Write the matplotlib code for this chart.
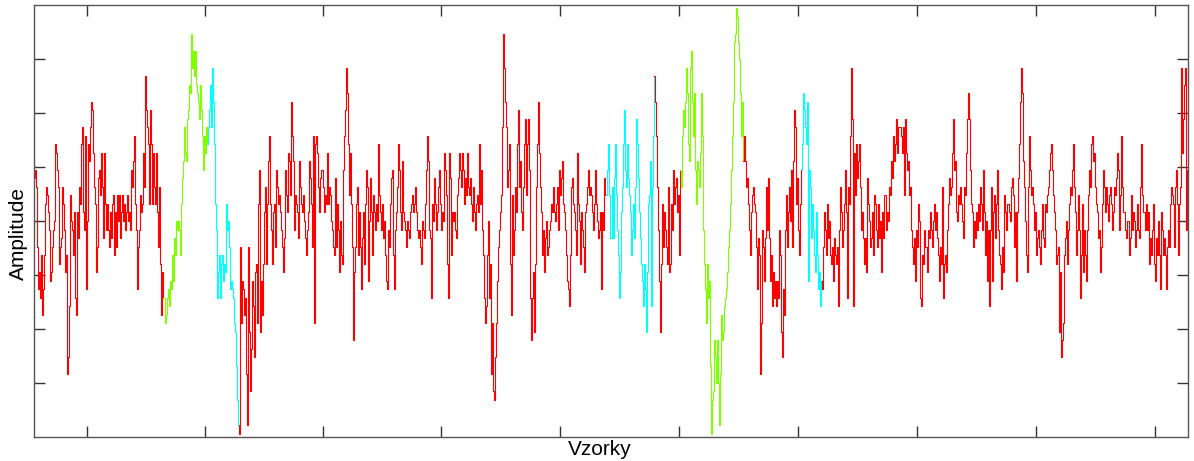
import numpy as np
import matplotlib
matplotlib.use("Agg")
import matplotlib.pyplot as plt

# amplitude (quantised levels) left to right
amp_1 = [5, 6, 4, -3, -8, -6, -9, -4, -11, -8, -4, 2, 4, 3, 1, -1, -7, -6, -3, -1, 0,
         9, 8, 6, 4, -5, -3, -2, 4, 2, -1, -6, -4, -18, -16, -10, 3, 0, -1, -4, 1,
         -9, -11, 1, -2, 4, 2, 9, 11, 1, -1, 10, -8, 0, 9, 7, 11, 14, 13, 8, 4,
         2, -6, -3, 5, 6, 3, 8, 4, -2, 8, 2, -1, 2, -1, -3, 1, -2, 2,
         3, -4, 1, -3, 3, 0, 3, -2, 1, 3, 0, 2, -1, 1, 3, 0, 1, -1, 6, 4, 7,
         10, 2, -1, -8, -3, -1, 3, 1, 2, 8, 4, 17, 13, 11, 9, 2, 13, 9, 2, 8,
         4, 2, 8, 1, -3, 4, -5, -11, -6, -9,
         -9, -12, -11, -9, -8, -10, -7, -8, -4, -7, -2, -4, 0, -1]
amp_2 = [0, -1, -4, 2, 5, 7, 11, 8, 7, 12, 13, 16, 15, 22, 18, 20, 17, 20, 16, 15,
         14, 12, 16, 13, 10, 6, 10, 8, 11, 9,
         11, 13, 16, 11, 18, 14, 9, 2, -1, -9, -6, -4, -9, -5, -4, -7, -5, -6, 2, -1,
         0, -3, -8, -7, -8, -9, -12, -13, -17, -21, -24,
         -25, -3, -12, -7, -8, -11, -9, -18, -24, -3, -13, -20, -15, -7, -10, -16, -6,
         -5, -12, 2, 6, -13, -7, -11, -5, 1, 4, -5, 2, 7, 10, 2, -1, -5, 1, 2, -3,
         6, 4, 2, 3, 1, -1, -3, -6, -2, 6, 3, 1, 8, 7, 3, 14, 10, 7, -1, 3, 2, 1, -2,
         7, 4, 2, 1, 3, 0, -2, -4, -1, 1, 7, 5, 2, -3, 10, -12, 9, 10, 8, 4, 1, 5, 6]
amp_3 = [4, 1, 3, 2, 8, 2, 4, 3, 0, -1, -3, -4, 5, -3, 2, -1, -6, 0, -4, -5,
         6, 10, 13, 18, 15, 9, 3, 8, 2, -3, -14, -6, -3, 2, 4, -4, 1, -3, -8, -2,
         1, -5, 2, 6, 4, -7, 0, 5, 1, -4, 3, 1, -1, 2, 0, 9, 3, 1, -1, 2, -2, 0,
         -4, -7, -8, -1, -3, 2, 5, 6, -4, -8, -1, 1, 4, 9, 6, 1, -1, 7, 1, 0,
         -1, -3, 0, -1, -2, 1, 2, 3, 1, 2, 4, 1, -1, -2, -1, -3, -5, 0, -1, -2,
         2, 6, 10, 7, -1, -2, -9, 2, 0, 5, 2, -1, 1, 4, 6, 2, -1, 1, 0,
         8, 6, 3, -5, -9, 8, 5, -4, 1, 0, 1, -1, -2, 3, 5, 8, 6, 4, 8, 6, 2, 5, 3]
amp_4 = [8, 4, 3, 5, 2, 0, 4, 1, -1, 2, 3, 1, 9, 2, 6, -1, -4, -9, -12, -10, -4, 0,
         -9, -5, -18, -12, -20, -21, -16, -12, -7, -3, -1, 1, 3, 11, 22, 18, 14,
         11, 4, 6, 9, -5, -11, 3, -4, -1, 4, 1, 9, 13, 4, 7, 1, -1, 4, 9, 12, 3, 9,
         12, 6, -9, -14, -9, -6, -13, -5, 4, 9, 14, 8, 4, 1, -4, -1, -6,
         -2, 0, -4, -3, -1, 0, 2, 1, 4, 1, 0, 2, 4, -1, 6, 3, 5, 7, 2, 1, -1, -4, -7,
         -8, -10, -4, 4, 5, 2, 1, -1, -4, 8, 2, 0, -5, 1, -1, -3, -6, 1, 2, 4,
         6, 3, 4, 3, 1, -1, 2, 6, 2, 0, -2, -1, 1, -8, 1, -1, 5, 3,
         3, 6, 9, 3, -2]
amp_5 = [4, -2, 5, 9, 3, -1, -4, -9, -6, 1, 4, 9, 13, 6, 4, 9, 5, 3, 1, -4, -1,
         2, -2, 4, 12, 9, 5, 1, -2, -5, -7, -10, -5, -8, -13, -6, 2, 3, 7, -10, 4, 10, 17,
         14, 10, 4, -1, -7, -13, -5, 2, -3, 1, -1, -3, -5, 4, -6, -5, 2, -1, 6, 2, 4,
         5, 1, 3, -4, 6,
         4, 10, 13, 11, 14, 18, 15, 9, 7, 18, 20, 14, 10, 15, 6, 2, 7, 6, 4, 8, 15, 10,
         -1, -5, -8, -12, -5, -9, -7, -17, -25, -21, -20, -14, -16, -19, -14, -19, -24,
         -18, -11, -14, -13, -10, -9, -8, -6, -3, -1, 2, 6, 10, 14, 21, 22, 25, 24, 21,
         19, 15, 10, 14, 7,
         10, 7, 4, 5, 2, -1, -4, 1, 3, 4, 2]
amp_6 = [1, -3, -8, -2, -4, -18, -12, -1, -3, -7, -2, 4, -1, 5, -2, -7, -4, -10,
         -6, -9, -7, -10, -7, -9, -1, -4, -13, -16, -8, -11, -1, 3, -3, 1, 4, 0, 6, -3,
         7, 13, 11, 2, 5, -1, -4, 2, 6,
         9, 15, 13, 11, 9, 14, -7, 6, 4, -2, 2, -1, -4, -6, 1, -4, -8, -6, -10, -7,
         -8, -3, 1, -1, -4, 2, -2, 0, -4, -5, -3, -7, -2, -4, -5, -3, -10, -1,
         4, 1, -3, -1, 2, 6, 1, -9, 4, 2, 10, 18, 12, -10, 8, 3, 9, 5, 7, 9,
         4, -1, 1, -2, -5, -2, -6, 5, 2, 0, -3, -2, 1, -4, 3, 2, -1, -3, 2, -2,
         0, -6, 1, -2, 3, 3, -1, 1, 0, 4, 3, 7, 5, 10, 7, 9, 12, 8, 11]
amp_7 = [11, 10, 8, 11, 3, 12, 8, 6, 7, 3, 4, -1, -3, -5, -2, -7, -1, -3, 2, 0, -9, -10,
         -4, -5, -1, -3, -3, -6, -1, -2, 1, -1, -3, 0, 2, -1, 1, -2, -4, -7, -3, -5,
         4, -9, -5, -4, -6, -1, 2, 5, 3, 4, 8, 12, 6, 7, 1, 0, 3, 2, 4, 2, 0,
         -2, 4, 3, 8, 12, 15, 12, 6, 2, 1, -3, 0, -2, 1, -1, 2, 0, 4, 2, -1,
         6, 1, -4, 0, -7, -1, -10, -1, 4, -7, 1, 3, -2, 2, 6, -1, -4, -5, -8, -3, -6,
         3, 1, -1, 2, 2, 1, 0, 4, 5, 3, -3, 1, -7, 1, 5, 9, 14, 18, 15, 7, 4,
         0, -4, -6, 4, 10, 6, 3, 4, 2, -1, 1, -4, -2, -1, -3, -5, -1, 2, -2]
amp_8 = [-3, 2, 1, 3, 4, 6, 8, 9, 6, 3, 1, -1, -5, -4, -3, -13, -6, -16, -14,
         -12, -4, -2, 0, -5, -1, 2, 4, 3, 6, 9, 4, 1, -4, -1, 3, -1, -9, -4,
         2, -6, -1, -4, -7, -1, 3, 6, 4, 9, 10, 7, 8, 4, 2, 1, -2, -1, -6, -3,
         2, 6, 4, 1, 4, 2, 0, 3, 4, 2, -1, 1, 4, 3, 5, 8, 6, -1, 3, 10, 4, 1,
         1, -1, -2, 0, 0, -4, -2, 3, -1, 1, 0, -3, -1, 2, -1, -2, 4, 9, 3, 1,
         1, -1, 2, -1, 1, -5, -2, -4, -1, 2, -5, -7, -2, -4, 0, -4, -8, 1, -1, -4,
         -2, -4, -8, -3, -1, -3, 2, 4, 3, 2, -3, 4, 6, 2, -4, 2, 4,
         18, 8, 12, 16, 18, -1, 6]

# colour class of consecutive runs of samples
run_classes = ["red", "green", "cyan", "red", "cyan", "red", "green", "red", "cyan", "red"]
run_lengths = [130, 44, 31, 366, 48, 26, 63, 58, 20, 365]

class_colors = {"red": "#ff0000", "green": "#80ff00", "cyan": "#00ffff"}

xtick_pos = [53, 170, 288, 406, 524, 643, 761, 880, 999, 1117]
ytick_pos = [-19.06, -12.71, -6.35, 0, 6.35, 12.71, 19.06]

amplitude = np.array(amp_1 + amp_2 + amp_3 + amp_4 + amp_5 + amp_6 + amp_7 + amp_8, dtype=float)
samples = np.arange(len(amplitude))

fig = plt.figure(figsize=(11.94, 4.61), dpi=100)
ax = fig.add_axes([34 / 1194, 1 - 437 / 461, 1154 / 1194, 432 / 461])

start = 0
for cls, n in zip(run_classes, run_lengths):
    s = max(start - 1, 0)
    ax.plot(samples[s:start + n], amplitude[s:start + n], color=class_colors[cls],
            lw=0.8, drawstyle="steps-mid")
    start += n

ax.set_xlim(0, len(amplitude) - 1)
ax.set_ylim(-25.4, 25.4)
ax.set_xticks(xtick_pos)
ax.set_yticks(ytick_pos)
ax.tick_params(direction="in", length=8, width=1, top=True, right=True,
               labelbottom=False, labelleft=False, color="#333333")
for sp in ax.spines.values():
    sp.set_color("#555555")
    sp.set_linewidth(1)

ax.set_xlabel("Vzorky", fontsize=15, family="Liberation Sans")
ax.set_ylabel("Amplitude", fontsize=15, family="Liberation Sans")
ax.xaxis.set_label_coords(0.4905, -0.007)
ax.yaxis.set_label_coords(-0.0052, 0.472)

fig.savefig("out.png", dpi=100)
